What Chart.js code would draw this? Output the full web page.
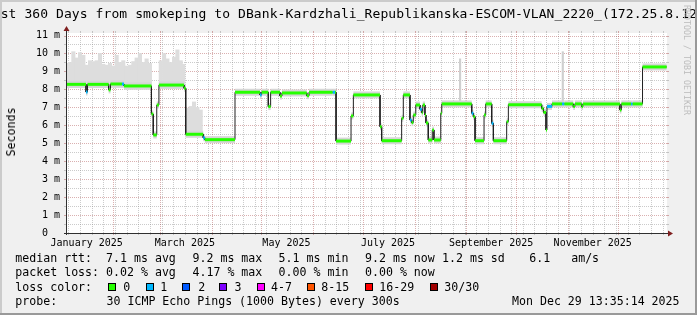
<!DOCTYPE html>
<html>
<head>
<meta charset="utf-8">
<script src="https://cdn.jsdelivr.net/npm/chart.js@4.4.1/dist/chart.umd.min.js"></script>
<style>
body { margin: 0; background: #fff; }
#wrap { position: relative; width: 697px; height: 315px; background: #f0f0f0; overflow: hidden;
        font-family: "DejaVu Sans Mono", monospace; color: #000; }
#c { position: absolute; left: 0; top: 0; }
.edge { position: absolute; }
.t { position: absolute; white-space: pre; font-size: 11.6px; line-height: 14px; }
.title { position: absolute; white-space: pre; font-size: 13px; line-height: 15px; left: -15.2px; top: 6.3px;
         letter-spacing: 0.086px; }
.box { position: absolute; width: 8px; height: 8px; box-sizing: border-box; border: 1px solid #000; top: 283px; }
#ylab { position: absolute; white-space: pre; font-size: 11.6px; line-height: 14px; left: 10.5px; top: 132px;
        transform: translate(-50%, -50%) rotate(-90deg); }
#wm { position: absolute; white-space: pre; font-size: 8.3px; line-height: 9px; left: 691px; top: 5px;
      color: #bdbdbd; transform: rotate(90deg); transform-origin: 0 0; }
</style>
</head>
<body>
<div id="wrap">
  <div class="edge" style="left:0;top:0;width:697px;height:2px;background:#cbcbcb"></div>
  <div class="edge" style="left:0;top:0;width:2px;height:315px;background:#cbcbcb"></div>
  <canvas id="c" width="697" height="315"></canvas>
  <div class="title">Last 360 Days from smokeping to DBank-Kardzhali_Republikanska-ESCOM-VLAN_2220_(172.25.8.12)</div>
  <div id="wm">RRDTOOL / TOBI OETIKER</div>
  <div id="ylab">Seconds</div>

  <div class="t" style="left:15.3px;top:251px">median rtt:  7.1 ms avg</div>
  <div class="t" style="left:192.5px;top:251px">9.2 ms max</div>
  <div class="t" style="left:278.6px;top:251px">5.1 ms min</div>
  <div class="t" style="left:365px;top:251px">9.2 ms now</div>
  <div class="t" style="left:442px;top:251px">1.2 ms sd</div>
  <div class="t" style="left:529.3px;top:251px">6.1   am/s</div>

  <div class="t" style="left:15.3px;top:265.3px">packet loss: 0.02 % avg</div>
  <div class="t" style="left:192.5px;top:265.3px">4.17 % max</div>
  <div class="t" style="left:278.6px;top:265.3px">0.00 % min</div>
  <div class="t" style="left:365px;top:265.3px">0.00 % now</div>

  <div class="t" style="left:15.3px;top:279.6px">loss color:</div>
  <div id="lossLegend"></div>

  <div class="t" style="left:15.3px;top:294px">probe:</div>
  <div class="t" style="left:106.5px;top:294px">30 ICMP Echo Pings (1000 Bytes) every 300s</div>
  <div class="t" style="left:512px;top:294px">Mon Dec 29 13:35:14 2025</div>
  <div class="edge" style="left:0;top:313px;width:697px;height:2px;background:#999"></div>
  <div class="edge" style="left:695px;top:0;width:2px;height:315px;background:#999"></div>
</div>
<script>
// x values are day-of-year 2025 (0 = Jan 1 00:00)
const startDay = 2.58;
const endDay = 363.6;

const monthLabels = ['January 2025', 'March 2025', 'May 2025', 'July 2025', 'September 2025', 'November 2025'];
const labelDays = [15, 74, 135, 196, 258, 319];
const monthStarts = [31, 59, 90, 120, 151, 181, 212, 243, 273, 304, 334];
const yTicks = [0, 1, 2, 3, 4, 5, 6, 7, 8, 9, 10, 11];

const lossLabels = ['0', '1', '2', '3', '4-7', '8-15', '16-29', '30/30'];
const lossColors = ['#26ff00', '#00b8ff', '#0059ff', '#7e00ff', '#ff00ff', '#ff5500', '#ff0000', '#a10000'];

// median rtt (ms) as a step function: value medVals[i] from medDays[i] to medDays[i+1]
const medDays = [2.6, 14.6, 15.5, 28.2, 29.3, 36.2, 37.4, 53.9, 55.0, 57.1, 58.4, 73.5, 74.5, 85.0, 86.0,
  104.1, 119.1, 120.1, 124.1, 125.5, 131.1, 132.3, 147.2, 148.6, 162.8, 164.2, 164.8, 173.8, 175.2,
  191.2, 192.2, 204.2, 205.2, 209.2, 210.2, 211.2, 212.7, 215.2, 216.3, 216.9, 218.2, 218.8, 220.2,
  222.6, 223.6, 227.7, 228.3, 246.3, 247.3, 248.3, 253.7, 254.7, 258.3, 259.3, 267.3, 268.3, 288.3,
  289.4, 290.9, 291.5, 294.5, 300.6, 302.0, 307.3, 308.3, 312.3, 313.1, 335.3, 336.2, 342.0, 343.0,
  348.9, 363.4];
const medVals = [8.28, 7.85, 8.28, 7.97, 8.3, 8.3, 8.19, 6.63, 5.46, 7.13, 8.24, 8.06, 5.5, 5.3,
  5.2, 7.84, 7.69, 7.84, 7.04, 7.84, 7.63, 7.8, 7.65, 7.84, 7.84, 7.84, 5.12, 6.52,
  7.69, 5.92, 5.14, 6.39, 7.69, 6.29, 6.15, 6.57, 7.13, 6.89, 6.7, 7.13, 6.57, 6.13,
  5.18, 5.74, 5.18, 6.67, 7.19, 6.67, 6.48, 5.14, 6.57, 7.19, 6.11, 5.14, 6.2, 7.15,
  6.94, 6.72, 5.74, 7.05, 7.19, 7.19, 7.19, 7.04, 7.19, 7.04, 7.19, 6.85, 7.19, 7.19,
  7.19, 9.25];
const medLoss = [0, 1, 0, 0, 0, 1, 0, 0, 0, 0, 0, 0, 0, 1,
  0, 0, 1, 0, 0, 0, 0, 0, 0, 0, 1, 0, 0, 0,
  0, 0, 0, 0, 0, 1, 0, 0, 0, 1, 0, 0, 0, 0,
  0, 0, 0, 0, 0, 1, 0, 0, 0, 0, 1, 0, 0, 0,
  0, 0, 0, 1, 0, 1, 0, 0, 0, 0, 0, 0, 0, 1,
  0, 0];

// smoke (spread of the 30 pings), ms
const smokeDays = [3, 5, 7, 9, 11, 13, 15, 17, 19, 21, 23, 25, 27, 29, 31, 33, 35, 37, 39, 41, 43, 45, 47, 49, 51, 53,
  59.5, 61.5, 63.5, 65.5, 67.5, 69.5, 71.5, 73,
  75.5, 77.5, 79.5, 81.5, 83.5];
const smokeLo = [8.1, 8.1, 8.1, 8.1, 8.1, 8.1, 8.1, 8.1, 8.1, 8.1, 8.1, 8.1, 8.1, 8.1, 8.1, 8.1, 8.1, 8.1, 8.0, 8.0, 8.0, 8.0, 8.0, 8.0, 8.0, 8.0,
  8.05, 8.05, 8.05, 8.05, 8.05, 8.05, 8.05, 8.05,
  5.35, 5.35, 5.35, 5.35, 5.35];
const smokeHi = [9.45, 9.5, 10.1, 9.75, 10.05, 9.9, 9.35, 9.6, 9.55, 9.6, 10.0, 9.4, 9.35, 9.45, 9.3, 9.9, 9.5, 9.6, 9.3, 9.35, 9.55, 9.75, 10.0, 9.5, 9.7, 9.45,
  9.6, 10.0, 9.7, 9.5, 9.8, 10.2, 9.6, 9.4,
  6.95, 7.05, 7.3, 7.0, 6.85];
const spikeDays = [239.3, 301.0];
const spikeLo = [7.25, 7.25];
const spikeHi = [9.7, 10.1];

// legend boxes
const boxLeft = [108, 146, 182, 219, 257, 307, 365, 430];
const boxTextLeft = [123.3, 160.3, 198.3, 234.6, 271, 321.3, 379.3, 444.3];
const legend = document.getElementById('lossLegend');
lossLabels.forEach((lab, i) => {
  const b = document.createElement('div');
  b.className = 'box';
  b.style.left = boxLeft[i] + 'px';
  b.style.background = lossColors[i];
  legend.appendChild(b);
  const t = document.createElement('div');
  t.className = 't';
  t.style.left = boxTextLeft[i] + 'px';
  t.style.top = '279.6px';
  t.textContent = lab;
  legend.appendChild(t);
});

const medPts = [];
for (let i = 0; i < medVals.length; i++) {
  medPts.push({ x: medDays[i], y: medVals[i] }, { x: medDays[i + 1], y: medVals[i] });
}
const isVertical = ctx => ctx.p0.parsed.x === ctx.p1.parsed.x;

const rrdFrame = {
  id: 'rrdFrame',
  beforeDatasetsDraw(chart) {
    const { ctx, chartArea: a, scales: { x, y } } = chart;
    ctx.save();
    ctx.fillStyle = '#ffffff';
    ctx.fillRect(a.left, a.top, a.right - a.left, a.bottom - a.top);
    ctx.lineWidth = 1;
    const vline = (d, col) => {
      const px = Math.round(x.getPixelForValue(d)) + 0.5;
      ctx.strokeStyle = col;
      ctx.setLineDash([1, 1]);
      ctx.beginPath(); ctx.moveTo(px, a.bottom); ctx.lineTo(px, a.top); ctx.stroke();
      ctx.setLineDash([]);
      ctx.beginPath(); ctx.moveTo(px, a.top - 2); ctx.lineTo(px, a.top);
      ctx.moveTo(px, a.bottom); ctx.lineTo(px, a.bottom + 2); ctx.stroke();
    };
    const hline = (v, col) => {
      const py = Math.round(y.getPixelForValue(v)) + 0.5;
      ctx.strokeStyle = col;
      ctx.setLineDash([1, 1]);
      ctx.beginPath(); ctx.moveTo(a.left, py); ctx.lineTo(a.right, py); ctx.stroke();
      ctx.setLineDash([]);
      ctx.beginPath(); ctx.moveTo(a.left - 2, py); ctx.lineTo(a.left, py);
      ctx.moveTo(a.right, py); ctx.lineTo(a.right + 2, py); ctx.stroke();
    };
    const minor = 'rgba(140,140,140,0.45)';
    const major = 'rgba(150,30,30,0.35)';
    for (let d = 4; d < endDay; d += 7) {
      if (d > startDay && !monthStarts.includes(d)) vline(d, minor);
    }
    for (let k = 0; k < 11; k++) hline(k + 0.5, minor);
    monthStarts.forEach(d => vline(d, major));
    yTicks.slice(1).forEach(v => hline(v, major));
    ctx.restore();
  },
  afterDatasetsDraw(chart) {
    const { ctx, chartArea: a } = chart;
    ctx.save();
    const ax = Math.round(a.left) + 0.5;
    const ay = Math.round(a.bottom) + 0.5;
    ctx.strokeStyle = '#303030';
    ctx.lineWidth = 1;
    ctx.beginPath();
    ctx.moveTo(a.left - 2, ay); ctx.lineTo(a.right + 3, ay);
    ctx.moveTo(ax, a.bottom + 2); ctx.lineTo(ax, a.top - 3);
    ctx.stroke();
    ctx.fillStyle = '#7f1f1f';
    ctx.beginPath();
    ctx.moveTo(ax - 3, a.top - 2); ctx.lineTo(ax + 3, a.top - 2); ctx.lineTo(ax, a.top - 7); ctx.closePath();
    ctx.moveTo(a.right + 1, ay - 3); ctx.lineTo(a.right + 1, ay + 3); ctx.lineTo(a.right + 6, ay); ctx.closePath();
    ctx.fill();
    ctx.restore();
  }
};

new Chart(document.getElementById('c'), {
  type: 'line',
  data: {
    datasets: [
      {
        type: 'line', order: 1, data: medPts, borderWidth: 3, pointRadius: 0, tension: 0,
        segment: {
          borderColor: ctx => isVertical(ctx) ? 'rgba(0,0,0,0)' : lossColors[medLoss[Math.floor(ctx.p0DataIndex / 2)]]
        }
      },
      { type: 'line', order: 2, data: medPts, borderWidth: 1, borderColor: '#202020', pointRadius: 0, tension: 0 },
      {
        type: 'line', order: 3, data: medPts, borderWidth: 7, pointRadius: 0, tension: 0,
        segment: { borderColor: ctx => isVertical(ctx) ? 'rgba(0,0,0,0)' : '#d6d6d6' }
      },
      {
        type: 'bar', order: 4, grouped: false, barThickness: 3.4, borderWidth: 0, backgroundColor: '#dddddd',
        data: smokeDays.map((d, i) => ({ x: d, y: [smokeLo[i], smokeHi[i]] }))
      },
      {
        type: 'bar', order: 4, grouped: false, barThickness: 1.5, borderWidth: 0, backgroundColor: '#cfcfcf',
        data: spikeDays.map((d, i) => ({ x: d, y: [spikeLo[i], spikeHi[i]] }))
      }
    ]
  },
  options: {
    responsive: false,
    animation: false,
    devicePixelRatio: 1,
    layout: { padding: { left: 0, right: 30, top: 33, bottom: 0 } },
    plugins: { legend: { display: false }, tooltip: { enabled: false } },
    scales: {
      x: {
        type: 'linear', min: startDay, max: endDay, offset: false,
        grid: { display: false, drawTicks: false }, border: { display: false },
        afterBuildTicks: s => { s.ticks = labelDays.map(v => ({ value: v })); },
        afterFit: s => { s.height = 82; },
        ticks: {
          autoSkip: false, maxRotation: 0, padding: 4, color: '#000',
          font: { family: 'DejaVu Sans Mono', size: 10 },
          callback: (v, i) => monthLabels[i]
        }
      },
      y: {
        type: 'linear', min: 0, max: 11.14,
        grid: { display: false, drawTicks: false }, border: { display: false },
        afterBuildTicks: s => { s.ticks = yTicks.map(v => ({ value: v })); },
        afterFit: s => { s.width = 66; },
        ticks: {
          padding: 6, color: '#000',
          font: { family: 'DejaVu Sans Mono', size: 10 },
          callback: v => v === 0 ? '0  ' : v + ' m'
        }
      }
    }
  },
  plugins: [rrdFrame]
});
</script>
</body>
</html>
